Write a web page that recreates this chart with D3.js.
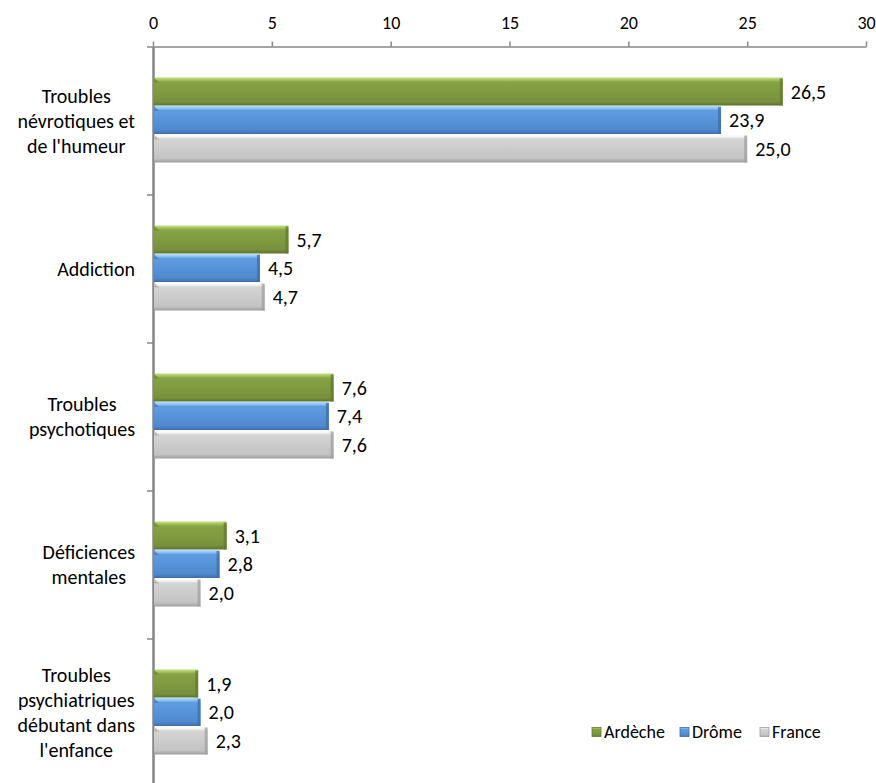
<!DOCTYPE html>
<html><head><meta charset="utf-8">
<script src="https://cdn.jsdelivr.net/npm/d3@7/dist/d3.min.js"></script>
<style>
html,body{margin:0;padding:0;background:#fff;}
svg{display:block;}
text{font-family:Carlito, Calibri, Lato, "Open Sans", sans-serif; fill:#000;}
</style></head>
<body><svg id="chart" width="876" height="783"></svg>
<script>
const categoryLines = [
  ["Troubles","névrotiques et","de l'humeur"],
  ["Addiction"],
  ["Troubles","psychotiques"],
  ["Déficiences","mentales"],
  ["Troubles","psychiatriques","débutant dans","l'enfance"]
];
const categories = categoryLines.map(l => l.join(" "));
const seriesNames = ["Ardèche","Drôme","France"];
const ardeche = [26.5, 5.7, 7.6, 3.1, 1.9];
const drome   = [23.9, 4.5, 7.4, 2.8, 2.0];
const france  = [25.0, 4.7, 7.6, 2.0, 2.3];
const tickValues = [0,5,10,15,20,25,30];

const seriesValues = [ardeche, drome, france];
const palette = [
  {id:"g", stops:["#c3e07c","#a9c662","#87a346","#809b40","#78903c","#5d722d"], edge:"#62792f"},
  {id:"b", stops:["#b0dafd","#92c5f5","#609ce1","#5793da","#5089cd","#3d6ba8"], edge:"#3f6dab"},
  {id:"s", stops:["#ffffff","#f5f5f5","#d5d5d5","#cccccc","#c3c3c3","#9d9d9d"], edge:"#a0a0a0"}
];
const offs = [0, 0.08, 0.16, 0.5, 0.86, 1];

const svg = d3.select("#chart");
const defs = svg.append("defs");
palette.forEach(p => {
  const g = defs.append("linearGradient").attr("id","grad-"+p.id)
    .attr("x1",0).attr("y1",0).attr("x2",0).attr("y2",1);
  p.stops.forEach((c,i) => g.append("stop").attr("offset",offs[i]).attr("stop-color",c));
});

const x0 = 153, x1 = 866, yTop = 46.5, yBot = 786.5;
const x = d3.scaleLinear().domain([0,30]).range([x0, x1]);
const y = d3.scaleBand().domain(categories).range([yTop, yBot]).paddingInner(0).paddingOuter(0);
const ySub = d3.scaleBand().domain(seriesNames).range([31, 116.5]).padding(0);

// top axis
const topAxis = d3.axisTop(x).tickValues(tickValues).tickSize(5).tickSizeOuter(0).tickPadding(13)
  .tickFormat(d3.format("d"));
const gTop = svg.append("g").attr("transform",`translate(0,${yTop})`).call(topAxis);
gTop.select(".domain").attr("stroke","#868686").attr("stroke-width",1.5);
gTop.selectAll(".tick line").attr("stroke","#868686").attr("stroke-width",1.5);
gTop.selectAll(".tick text").style("font-size","18px").attr("fill","#000");

// left axis with ticks at category boundaries
const yBound = d3.scaleLinear().domain([0, categories.length]).range([yTop, yBot]);
const leftAxis = d3.axisLeft(yBound).tickValues(d3.range(0, categories.length)).tickSize(6).tickSizeOuter(0).tickFormat("");
const gLeft = svg.append("g").attr("transform",`translate(${x0},0)`).call(leftAxis);
gLeft.select(".domain").attr("stroke","#868686").attr("stroke-width",2.5);
gLeft.selectAll(".tick line").attr("stroke","#868686").attr("stroke-width",1.5);

// bars
const gBars = svg.append("g");
categories.forEach((cat, ci) => {
  seriesNames.forEach((s, si) => {
    const v = seriesValues[si][ci];
    const by = y(cat) + ySub(s);
    const bh = ySub.bandwidth() - 0.5;
    const bx = x(0) + 1;
    const bw = x(v) - x(0) - 1;
    const p = palette[si];
    gBars.append("rect").attr("x",bx).attr("y",by).attr("width",bw).attr("height",bh)
      .attr("fill",`url(#grad-${p.id})`);
    gBars.append("rect").attr("x",bx + bw - 3).attr("y",by+1).attr("width",3).attr("height",bh-1)
      .attr("fill",p.edge).attr("opacity",0.75);
    gBars.append("path").attr("d",`M${bx},${by}L${bx+5},${by+5}L${bx},${by+5}Z`)
      .attr("fill",p.edge).attr("opacity",0.6);
    gBars.append("text").attr("x", x(v) + 8).attr("y", by + bh/2)
      .attr("dy","0.35em").style("font-size","20px")
      .text(d3.format(".1f")(v).replace(".", ","));
  });
});

// category labels
const lineH = 25;
const gCat = svg.append("g");
categoryLines.forEach((lines, ci) => {
  const cy = y(categories[ci]) + y.bandwidth()/2;
  const t = gCat.append("text").style("font-size","20px").attr("text-anchor","middle");
  const n = lines.length;
  lines.forEach((ln, li) => {
    t.append("tspan").attr("x",0).attr("y", cy + (li - (n-1)/2)*lineH).attr("dy","0.35em").text(ln);
  });
  let maxW = 0;
  t.selectAll("tspan").each(function(){ maxW = Math.max(maxW, this.getComputedTextLength()); });
  const cx = 135 - maxW/2;
  t.selectAll("tspan").attr("x", cx);
});

// legend
const legendX = [592, 680, 760];
const gLeg = svg.append("g");
seriesNames.forEach((s, si) => {
  const lx = legendX[si], ly = 732;
  gLeg.append("rect").attr("x",lx).attr("y",ly-4.5).attr("width",9).attr("height",9)
    .attr("fill",`url(#grad-${palette[si].id})`).attr("stroke",palette[si].edge).attr("stroke-width",0.8);
  gLeg.append("text").attr("x",lx+12).attr("y",ly).attr("dy","0.35em").style("font-size","18px").text(s);
});
</script>
</body></html>
